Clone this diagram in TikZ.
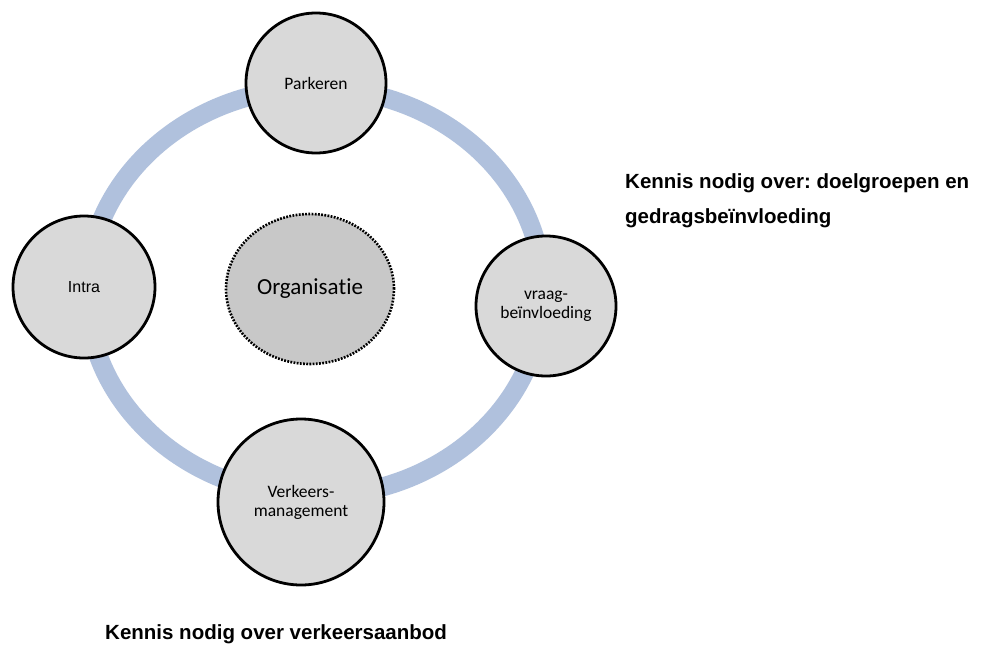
\documentclass[tikz,border=0pt]{standalone}
\usepackage{fontspec}
\setmainfont{Carlito}[Ligatures={NoCommon}]
\newfontfamily\arialf{Liberation Sans}
\usetikzlibrary{shapes.geometric}
\frenchspacing
\definecolor{ringblue}{RGB}{176,193,221}
\definecolor{nodegray}{RGB}{217,217,217}
\definecolor{orggray}{RGB}{200,200,200}
\tikzset{
  topic/.style={circle, draw=black, line width=2.8pt, fill=nodegray, inner sep=0pt, align=center,
    font=\fontsize{17.5}{19}\selectfont},
  centre/.style={ellipse, draw=black, line width=2.6pt, dash pattern=on 1.8pt off 1.4pt, fill=orggray,
    inner sep=0pt, minimum width=168pt, minimum height=150pt, font=\fontsize{23}{26}\selectfont},
  remark/.style={anchor=base west, inner sep=0pt, font=\arialf\bfseries\fontsize{20.5}{24}\selectfont}
}
\begin{document}
\begin{tikzpicture}[x=1pt,y=-1pt]
\useasboundingbox (0,0) rectangle (982,648);
\fill[white] (0,0) rectangle (982,648);
% ring
\draw[ringblue, line width=19pt] (315,292) ellipse [x radius=228, y radius=204];
% nodes
\node[centre] (org) at (310,289) {Organisatie};
\node[topic, minimum size=140pt] (park) at (316,83) {Parkeren};
\node[topic, minimum size=142pt, font=\arialf\fontsize{16}{19}\selectfont] (intra) at (84,287) {Intra};
\node[topic, minimum size=140pt] (vraag) at (546,306) {vraag-\\beïnvloeding};
\node[topic, minimum size=166pt] (verk) at (301,502) {Verkeers-\\management};
% remarks
\node[remark] (k1) at (625,188) {Kennis nodig over: doelgroepen en};
\node[remark] (k2) at (625,223) {gedragsbeïnvloeding};
\node[remark] (k3) at (105,639) {Kennis nodig over verkeersaanbod};
\end{tikzpicture}
\end{document}
